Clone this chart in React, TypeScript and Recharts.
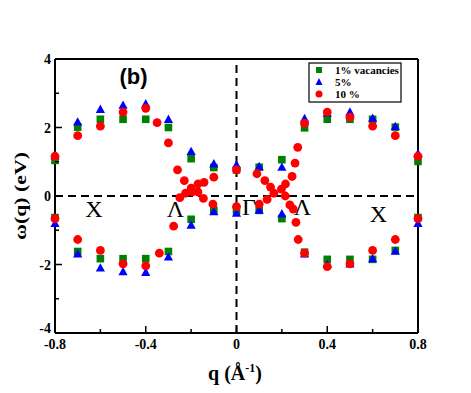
import { ScatterChart, Scatter, XAxis, YAxis, ReferenceLine } from "recharts";

// q grid used for the 1% and 5% samples
const qGrid = [-0.8, -0.7, -0.6, -0.5, -0.4, -0.3, -0.2, -0.1, 0, 0.1, 0.2, 0.3, 0.4, 0.5, 0.6, 0.7, 0.8];

const vac1Upper = [1.04, 2.01, 2.24, 2.24, 2.24, 2.0, 1.09, 0.83, 0.76, 0.84, 1.06, 1.99, 2.24, 2.24, 2.24, 2.01, 1.01];
const vac1Lower = [-0.63, -1.62, -1.83, -1.83, -1.83, -1.62, -0.68, -0.41, -0.42, -0.42, -0.66, -1.64, -1.85, -1.85, -1.85, -1.59, -0.63];

const vac5Upper = [1.18, 2.16, 2.53, 2.65, 2.69, 2.24, 1.3, 0.94, 0.91, 0.86, 0.84, 2.26, 2.42, 2.45, 2.27, 2.03, 1.24];
const vac5Lower = [-0.8, -1.69, -2.1, -2.21, -2.23, -1.78, -0.85, -0.46, -0.5, -0.41, -0.52, -1.69, -2.0, -1.98, -1.83, -1.61, -0.8];

// 10% sample, denser near the crossings
const vac10UpperQ = [-0.8, -0.7, -0.6, -0.5, -0.4, -0.35, -0.3, -0.26, -0.23, -0.2, -0.17, -0.143, -0.1, 0, 0.09, 0.125, 0.15, 0.198, 0.216, 0.245, 0.258, 0.27, 0.3, 0.4, 0.5, 0.6, 0.7, 0.8];
const vac10Upper = [1.16, 1.76, 2.04, 2.45, 2.56, 2.14, 1.55, 0.76, 0.45, 0.23, 0.35, 0.4, 0.55, 0.76, 0.65, 0.45, 0.26, 0.2, 0.35, 0.57, 0.96, 1.42, 2.12, 2.45, 2.3, 2.04, 1.76, 1.16];
const vac10LowerQ = [-0.8, -0.7, -0.6, -0.5, -0.4, -0.34, -0.277, -0.25, -0.225, -0.195, -0.17, -0.146, -0.104, 0, 0.1, 0.135, 0.165, 0.215, 0.235, 0.25, 0.262, 0.272, 0.3, 0.4, 0.5, 0.6, 0.7, 0.8];
const vac10Lower = [-0.66, -1.27, -1.59, -1.98, -2.04, -1.67, -0.88, -0.05, 0.08, 0.12, 0.12, -0.07, -0.24, -0.31, -0.24, -0.1, 0.08, 0.0, -0.26, -0.38, -0.77, -1.27, -1.67, -2.06, -1.98, -1.59, -1.27, -0.66];

const X_TICKS = [-0.8, -0.6, -0.4, -0.2, 0, 0.2, 0.4, 0.6, 0.8];
const Y_TICKS = [-4, -3, -2, -1, 0, 1, 2, 3, 4];

const pairs = (qs: number[], ws: number[]) => qs.map((q, i) => ({ q, w: ws[i] }));

const vac1 = [...pairs(qGrid, vac1Upper), ...pairs(qGrid, vac1Lower)];
const vac5 = [...pairs(qGrid, vac5Upper), ...pairs(qGrid, vac5Lower)];
const vac10 = [...pairs(vac10UpperQ, vac10Upper), ...pairs(vac10LowerQ, vac10Lower)];

const GREEN = "#008000";
const BLUE = "#0000ff";
const RED = "#ff0000";
const SERIF = "'Liberation Serif', 'Times New Roman', serif";

const Square = ({ cx, cy }: any) => <rect x={cx - 3.8} y={cy - 3.8} width={7.6} height={7.6} fill={GREEN} />;
const Triangle = ({ cx, cy }: any) => (
  <polygon points={`${cx},${cy - 4.8} ${cx - 4.6},${cy + 3.6} ${cx + 4.6},${cy + 3.6}`} fill={BLUE} />
);
const Dot = ({ cx, cy }: any) => <circle cx={cx} cy={cy} r={4.4} fill={RED} />;

const isMajorX = (v: number) => Math.round(v * 10) % 4 === 0;
const isMajorY = (v: number) => v % 2 === 0;
const fmtX = (v: number) => (Math.abs(v) < 1e-9 ? "0" : v.toFixed(1));

const labelStyle = { fontFamily: SERIF, fontWeight: 700, fontSize: 14, fill: "#000" };

const BottomTick = ({ x, y, payload }: any) => {
  const major = isMajorX(payload.value);
  return (
    <g>
      <line x1={x} x2={x} y1={y} y2={y - (major ? 7 : 4)} stroke="#000" strokeWidth={1.5} />
      {major && (
        <text x={x} y={y + 16} textAnchor="middle" style={labelStyle}>
          {fmtX(payload.value)}
        </text>
      )}
    </g>
  );
};

const TopTick = ({ x, y, payload }: any) => {
  const major = isMajorX(payload.value);
  return <line x1={x} x2={x} y1={y} y2={y + (major ? 7 : 4)} stroke="#000" strokeWidth={1.5} />;
};

const LeftTick = ({ x, y, payload }: any) => {
  const major = isMajorY(payload.value);
  // the -4 label sits on the corner, lift it a touch so it clears -0.8
  const dy = payload.value === -4 ? 0 : 5;
  return (
    <g>
      <line x1={x} x2={x + (major ? 7 : 4)} y1={y} y2={y} stroke="#000" strokeWidth={1.5} />
      {major && (
        <text x={x - 4} y={y + dy} textAnchor="end" style={labelStyle}>
          {payload.value}
        </text>
      )}
    </g>
  );
};

const RightTick = ({ x, y, payload }: any) => {
  const major = isMajorY(payload.value);
  return <line x1={x} x2={x - (major ? 7 : 4)} y1={y} y2={y} stroke="#000" strokeWidth={1.5} />;
};

const symbolText = { fontFamily: SERIF, fontSize: 24, fill: "#000" };
const axisLine = { stroke: "#000", strokeWidth: 2 };

export default function App() {
  return (
    <div style={{ position: "absolute", left: 0, top: 0, width: 471, height: 393, background: "#fff" }}>
      <ScatterChart width={471} height={393} margin={{ top: 58, right: 52, bottom: 59, left: 54 }}>
        <XAxis
          dataKey="q"
          type="number"
          domain={[-0.8, 0.8]}
          ticks={X_TICKS}
          height={1}
          tickSize={0}
          tickMargin={0}
          tickLine={false}
          axisLine={axisLine}
          tick={<BottomTick />}
          interval={0}
        />
        <XAxis
          xAxisId="top"
          orientation="top"
          type="number"
          domain={[-0.8, 0.8]}
          ticks={X_TICKS}
          height={1}
          tickSize={0}
          tickMargin={0}
          tickLine={false}
          axisLine={axisLine}
          tick={<TopTick />}
          interval={0}
        />
        <YAxis
          dataKey="w"
          type="number"
          domain={[-4, 4]}
          ticks={Y_TICKS}
          width={1}
          tickSize={0}
          tickMargin={0}
          tickLine={false}
          axisLine={axisLine}
          tick={<LeftTick />}
          interval={0}
        />
        <YAxis
          yAxisId="right"
          orientation="right"
          type="number"
          domain={[-4, 4]}
          ticks={Y_TICKS}
          width={1}
          tickSize={0}
          tickMargin={0}
          tickLine={false}
          axisLine={axisLine}
          tick={<RightTick />}
          interval={0}
        />
        <ReferenceLine y={0} stroke="#000" strokeWidth={2} strokeDasharray="8 5" />
        <ReferenceLine x={0} stroke="#000" strokeWidth={2} strokeDasharray="8 5" />
        <Scatter name="1%  vacancies" data={vac1} shape={<Square />} isAnimationActive={false} />
        <Scatter name="5%" data={vac5} shape={<Triangle />} isAnimationActive={false} />
        <Scatter name="10 %" data={vac10} shape={<Dot />} isAnimationActive={false} />
      </ScatterChart>

      <svg
        width={471}
        height={393}
        style={{ position: "absolute", left: 0, top: 0, pointerEvents: "none" }}
      >
        <text x={133.5} y={84} textAnchor="middle" style={{ fontFamily: "'Liberation Sans', Arial, sans-serif", fontWeight: 700, fontSize: 22 }}>
          (b)
        </text>
        <text x={94} y={217} textAnchor="middle" style={symbolText}>X</text>
        <text x={175.5} y={217} textAnchor="middle" style={symbolText}>Λ</text>
        <text x={249} y={215} textAnchor="middle" style={symbolText}>Γ</text>
        <text x={302.5} y={215} textAnchor="middle" style={symbolText}>Λ</text>
        <text x={378.5} y={222} textAnchor="middle" style={symbolText}>X</text>

        <text
          x={26}
          y={196}
          textAnchor="middle"
          transform="rotate(-90 26 196)"
          textLength={88}
          lengthAdjust="spacingAndGlyphs"
          style={{ fontFamily: SERIF, fontWeight: 700, fontSize: 17 }}
        >
          ω(q) (eV)
        </text>
        <text x={235} y={380} textAnchor="middle" style={{ fontFamily: SERIF, fontWeight: 700, fontSize: 20 }}>
          q (Å
          <tspan dy={-8} style={{ fontSize: 12 }}>-1</tspan>
          <tspan dy={8}>)</tspan>
        </text>

        <g>
          <rect x={309} y={63} width={92} height={39} fill="#fff" stroke="#000" strokeWidth={1.2} />
          <rect x={316} y={67} width={6} height={6} fill={GREEN} />
          <polygon points="319,78 315.5,85 322.5,85" fill={BLUE} />
          <circle cx={319} cy={94} r={3.5} fill={RED} />
          <text x={335} y={74} style={{ fontFamily: SERIF, fontWeight: 700, fontSize: 11 }}>1%  vacancies</text>
          <text x={335} y={86} style={{ fontFamily: SERIF, fontWeight: 700, fontSize: 11 }}>5%</text>
          <text x={335} y={98} style={{ fontFamily: SERIF, fontWeight: 700, fontSize: 11 }}>10 %</text>
        </g>
      </svg>
    </div>
  );
}
